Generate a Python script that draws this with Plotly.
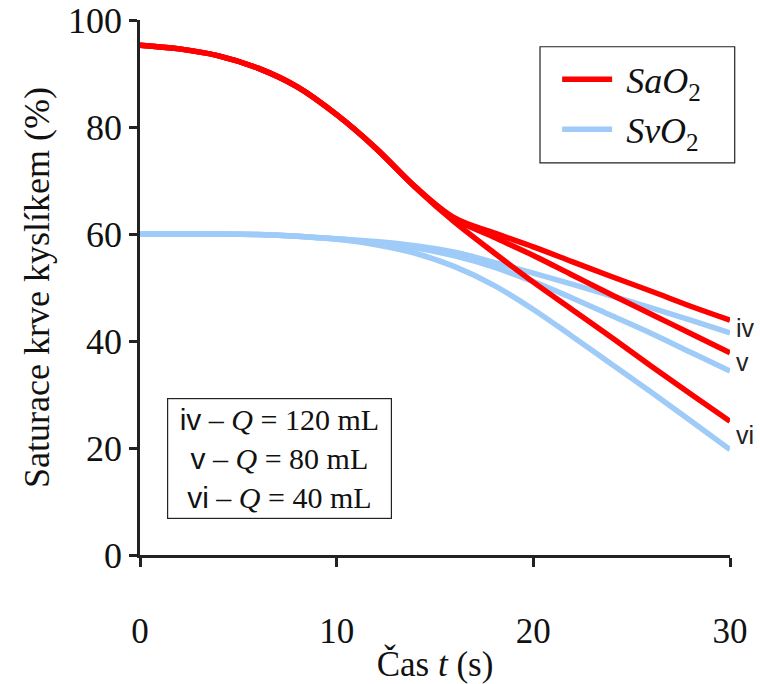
import plotly.graph_objects as go

# time points (s)
t = [0, 2, 4, 6, 8, 10, 12, 14, 16, 18, 20, 22, 24, 26, 28, 30]

# arterial saturation SaO2 (%)
sao2_iv = [95.3, 94.6, 93.3, 91.0, 87.5, 82.3, 76.0, 68.8, 63.0, 60.2, 57.6, 54.8, 52.0, 49.3, 46.5, 43.9]
sao2_v  = [95.3, 94.6, 93.3, 91.0, 87.5, 82.3, 76.0, 68.8, 62.8, 59.4, 56.0, 52.3, 48.6, 45.0, 41.4, 37.8]
sao2_vi = [95.3, 94.6, 93.3, 91.0, 87.5, 82.3, 76.0, 68.7, 62.2, 56.5, 51.0, 45.8, 40.6, 35.3, 30.1, 25.0]

# venous saturation SvO2 (%)
svo2_iv = [60.0, 60.0, 60.0, 59.9, 59.6, 59.1, 58.6, 57.8, 56.6, 54.7, 52.7, 50.6, 48.4, 46.2, 43.9, 41.5]
svo2_v  = [60.0, 60.0, 60.0, 59.9, 59.6, 59.1, 58.4, 57.4, 55.9, 53.8, 51.1, 48.0, 44.7, 41.4, 37.9, 34.4]
svo2_vi = [60.0, 60.0, 60.0, 59.9, 59.6, 59.0, 58.0, 56.4, 53.9, 50.4, 45.9, 40.8, 35.6, 30.4, 25.1, 19.7]

curve_labels = ["iv", "v", "vi"]
label_y = [42.4, 36.1, 22.4]
q_values = [120, 80, 40]

x_ticks = [0, 10, 20, 30]
y_ticks = [0, 20, 40, 60, 80, 100]

RED = "#ff0000"
BLUE = "#9ecbf7"
SERIF = "Liberation Serif"
SANS = "Liberation Sans"
NB = "\u00a0"

fig = go.Figure()
for i, ys in enumerate([svo2_iv, svo2_v, svo2_vi]):
    fig.add_trace(go.Scatter(x=t, y=ys, mode="lines", line=dict(color=BLUE, width=5.5, shape="spline", smoothing=1.0),
                             name=NB + "<i>SvO</i><sub>2</sub>", showlegend=(i == 0), legendrank=2))
for i, ys in enumerate([sao2_iv, sao2_v, sao2_vi]):
    fig.add_trace(go.Scatter(x=t, y=ys, mode="lines", line=dict(color=RED, width=5.5, shape="spline", smoothing=1.0),
                             name=NB + "<i>SaO</i><sub>2</sub>", showlegend=(i == 0), legendrank=1))

# curve labels at the right end
for lab, yv in zip(curve_labels, label_y):
    fig.add_annotation(x=30, y=yv, xref="x", yref="y", text=lab, showarrow=False,
                       xanchor="left", yanchor="middle", xshift=4,
                       font=dict(family=SANS, size=25, color="#222"))

# Q legend box
lines = []
for lab, q in zip(curve_labels, q_values):
    lines.append(f"{NB}<span style='font-family:{SANS}'>{lab}</span> – <i>Q</i> = {q} mL{NB}")
fig.add_annotation(x=0.046, y=0.294, xref="paper", yref="paper", text="<br>".join(lines),
                   showarrow=False, xanchor="left", yanchor="top", align="center",
                   font=dict(family=SERIF, size=30, color="#111"),
                   bordercolor="#222", borderwidth=1.2, borderpad=4, bgcolor="white")

# frame around the series legend
fig.add_shape(type="rect", xref="paper", yref="paper", x0=0.678, x1=1.008, y0=0.733, y1=0.950,
              line=dict(color="#222", width=1.2), fillcolor="white", layer="above")

fig.update_layout(
    width=760, height=684,
    margin=dict(l=140, r=30, t=20, b=129, autoexpand=False),
    paper_bgcolor="white", plot_bgcolor="white",
    font=dict(family=SERIF, color="#111"),
    legend=dict(x=0.707, y=0.945, xanchor="left", yanchor="top",
                borderwidth=0, bgcolor="rgba(0,0,0,0)",
                font=dict(family=SERIF, size=36), itemwidth=50,
                tracegroupgap=0, traceorder="normal"),
    xaxis=dict(range=[0, 30], tickvals=x_ticks, showgrid=False, zeroline=False,
               showline=True, linecolor="#222", linewidth=2.5,
               ticks="outside", ticklen=9, tickwidth=2.5, tickcolor="#222",
               tickfont=dict(family=SERIF, size=35), ticklabelstandoff=34,
               automargin=False,
               title=dict(text="Čas <i>t</i> (s)", font=dict(family=SERIF, size=35), standoff=6)),
    yaxis=dict(range=[0, 100], tickvals=y_ticks, showgrid=False, zeroline=False,
               showline=True, linecolor="#222", linewidth=2.5,
               ticks="outside", ticklen=8, tickwidth=2.5, tickcolor="#222",
               tickfont=dict(family=SERIF, size=36), automargin=False,
               title=dict(text="Saturace krve kyslíkem (%)", font=dict(family=SERIF, size=36), standoff=8)),
)

fig.write_html("out.html")
